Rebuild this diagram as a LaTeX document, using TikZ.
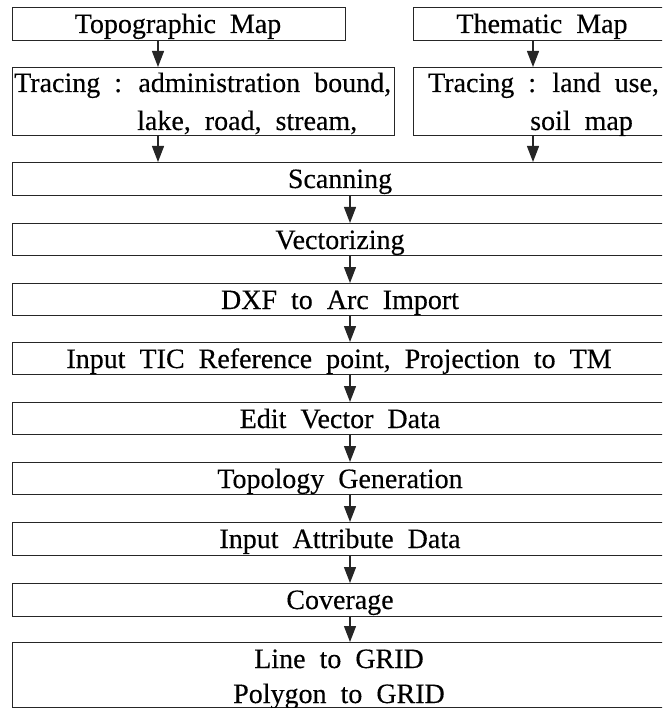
\documentclass[tikz,border=0pt]{standalone}
\usepackage{fontspec}
\setmainfont{Liberation Serif}[WordSpace=2.0, FakeBold=0.3]
\usetikzlibrary{arrows.meta}
\begin{document}
\begin{tikzpicture}[x=1pt,y=-1pt,
  box/.style={draw=black!85, line width=1.3pt, rectangle, inner sep=0pt, anchor=north west},
  lbl/.style={anchor=base, inner sep=0pt, font=\fontsize{28}{32}\selectfont},
  lblw/.style={anchor=base west, inner sep=0pt, font=\fontsize{28}{32}\selectfont},
  arr/.style={draw=black!85, line width=1.3pt, -{Triangle[length=16pt,width=12pt]}}
]
\clip (0,0) rectangle (662,708);

% column positions of the connectors
\coordinate (colL) at (158,0);
\coordinate (colR) at (533,0);
\coordinate (colC) at (350,0);

% source maps
\node[box, minimum width=333pt, minimum height=33pt] (topo) at (12,7) {};
\node[box, minimum width=260pt, minimum height=33pt] (them) at (413,7) {};
\node[lbl] (tTopo) at (178,33) {Topographic Map};
\node[lbl] (tThem) at (542,33) {Thematic Map};

% tracing
\node[box, minimum width=382pt, minimum height=68pt] (trL) at (12,67) {};
\node[box, minimum width=260pt, minimum height=68pt] (trR) at (413,67) {};
\node[lblw] (tTrL1) at (14,92) {Tracing : administration bound,};
\node[lblw] (tTrL2) at (137,130) {lake, road, stream,};
\node[lblw] (tTrR1) at (428,92) {Tracing : land use,};
\node[lblw] (tTrR2) at (530,130) {soil map};

% processing chain
\node[box, minimum width=660pt, minimum height=33pt] (scan) at (12,162) {};
\node[box, minimum width=660pt, minimum height=32pt] (vec) at (12,223) {};
\node[box, minimum width=660pt, minimum height=32pt] (dxf) at (12,283) {};
\node[box, minimum width=660pt, minimum height=32pt] (tic) at (12,342) {};
\node[box, minimum width=660pt, minimum height=32pt] (edit) at (12,402) {};
\node[box, minimum width=660pt, minimum height=32pt] (topol) at (12,462) {};
\node[box, minimum width=660pt, minimum height=33pt] (attr) at (12,522) {};
\node[box, minimum width=660pt, minimum height=33pt] (cov) at (12,583) {};
\node[box, minimum width=660pt, minimum height=65pt] (grid) at (12,642) {};

\node[lbl] (tScan) at (340,188) {Scanning};
\node[lbl] (tVec) at (340,249) {Vectorizing};
\node[lbl] (tDxf) at (340,309) {DXF to Arc Import};
\node[lbl] (tTic) at (339,368) {Input TIC Reference point, Projection to TM};
\node[lbl] (tEdit) at (340,428) {Edit Vector Data};
\node[lbl] (tTopol) at (340,488) {Topology Generation};
\node[lbl] (tAttr) at (340,548) {Input Attribute Data};
\node[lbl] (tCov) at (340,609) {Coverage};
\node[lbl] (tGrid1) at (339,668) {Line to GRID};
\node[lbl] (tGrid2) at (339,703) {Polygon to GRID};

% connectors
\draw[arr] (topo.south -| colL) -- (trL.north -| colL);
\draw[arr] (them.south -| colR) -- (trR.north -| colR);
\draw[arr] (trL.south -| colL) -- (scan.north -| colL);
\draw[arr] (trR.south -| colR) -- (scan.north -| colR);
\draw[arr] (scan.south -| colC) -- (vec.north -| colC);
\draw[arr] (vec.south -| colC) -- (dxf.north -| colC);
\draw[arr] (dxf.south -| colC) -- (tic.north -| colC);
\draw[arr] (tic.south -| colC) -- (edit.north -| colC);
\draw[arr] (edit.south -| colC) -- (topol.north -| colC);
\draw[arr] (topol.south -| colC) -- (attr.north -| colC);
\draw[arr] (attr.south -| colC) -- (cov.north -| colC);
\draw[arr] (cov.south -| colC) -- (grid.north -| colC);
\end{tikzpicture}
\end{document}
